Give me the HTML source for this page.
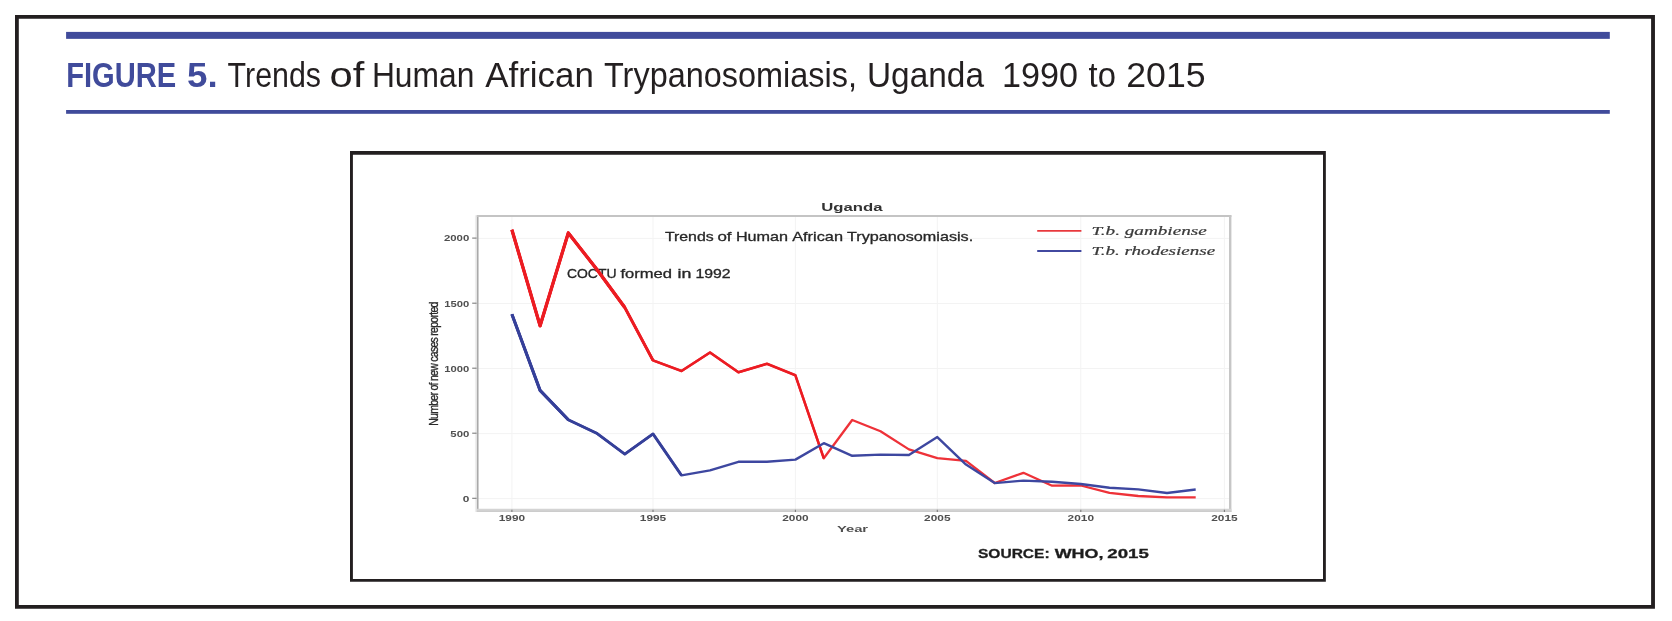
<!DOCTYPE html>
<html lang="en">
<head>
<meta charset="utf-8">
<title>FIGURE 5. Trends of Human African Trypanosomiasis, Uganda 1990 to 2015</title>
<style>
  html, body { margin: 0; padding: 0; background: #ffffff; }
  body { width: 1672px; height: 621px; overflow: hidden; position: relative; }
  svg { position: absolute; left: 0; top: 0; display: block; will-change: transform; }
  text { font-family: "Liberation Sans", Arial, sans-serif; }
  .serif { font-family: "Liberation Serif", "Times New Roman", serif; font-style: italic; }
</style>
</head>
<body>
<svg width="1672" height="621" viewBox="0 0 1672 621">
  <rect x="0" y="0" width="1672" height="621" fill="#ffffff"/>

  <!-- outer frame -->
  <path fill="#231f20" fill-rule="evenodd" d="M15 15H1654.95V608.8H15Z M18.8 18.65H1651.1V605.05H18.8Z"/>

  <!-- heading rules -->
  <rect x="66.1" y="31.9" width="1543.7" height="6.95" fill="#404b9b"/>
  <rect x="66.1" y="110" width="1543.7" height="3.8" fill="#404b9b"/>

  <!-- heading -->
  <text y="87.2" font-size="35" fill="#231f20"><tspan fill="#404b9b" font-weight="bold"><tspan x="66.2" textLength="110" lengthAdjust="spacingAndGlyphs">FIGURE</tspan> <tspan x="187.1" textLength="30.7" lengthAdjust="spacingAndGlyphs">5.</tspan></tspan> <tspan x="227.6" textLength="93.4" lengthAdjust="spacingAndGlyphs">Trends</tspan> <tspan x="329.5" textLength="34.8" lengthAdjust="spacingAndGlyphs">of</tspan> <tspan x="371.9" textLength="102.5" lengthAdjust="spacingAndGlyphs">Human</tspan> <tspan x="485.2" textLength="108.6" lengthAdjust="spacingAndGlyphs">African</tspan> <tspan x="604" textLength="253" lengthAdjust="spacingAndGlyphs">Trypanosomiasis,</tspan> <tspan x="867" textLength="117" lengthAdjust="spacingAndGlyphs">Uganda</tspan> <tspan x="1002.1" textLength="75.9" lengthAdjust="spacingAndGlyphs">1990</tspan> <tspan x="1088.6" textLength="27.3" lengthAdjust="spacingAndGlyphs">to</tspan> <tspan x="1126.3" textLength="79.3" lengthAdjust="spacingAndGlyphs">2015</tspan></text>

  <!-- inner figure box -->
  <path fill="#231f20" fill-rule="evenodd" d="M350 151H1325.85V581.8H350Z M352.9 154.8H1323V579H352.9Z"/>

  <!-- chart -->
  <defs><filter id="soft" x="-2%" y="-2%" width="104%" height="104%"><feGaussianBlur stdDeviation="0.55"/></filter></defs>
  <g id="chart" filter="url(#soft)">
    <!-- grid -->
    <g stroke="#f3f3f3" stroke-width="1" fill="none">
      <line x1="511.9" y1="216.4" x2="511.9" y2="510.4"/>
      <line x1="653.0" y1="216.4" x2="653.0" y2="510.4"/>
      <line x1="795.4" y1="216.4" x2="795.4" y2="510.4"/>
      <line x1="937.3" y1="216.4" x2="937.3" y2="510.4"/>
      <line x1="1080.8" y1="216.4" x2="1080.8" y2="510.4"/>
      <line x1="1224.4" y1="216.4" x2="1224.4" y2="510.4"/>
      <line x1="477.55" y1="498.6" x2="1229.8" y2="498.6"/>
      <line x1="477.55" y1="433.6" x2="1229.8" y2="433.6"/>
      <line x1="477.55" y1="368.5" x2="1229.8" y2="368.5"/>
      <line x1="477.55" y1="303.5" x2="1229.8" y2="303.5"/>
      <line x1="477.55" y1="238.4" x2="1229.8" y2="238.4"/>
    </g>
    <!-- plot frame -->
    <line x1="475.9" y1="215.2" x2="475.9" y2="512" stroke="#eeeeee" stroke-width="2"/>
    <line x1="477.7" y1="215.2" x2="477.7" y2="512" stroke="#a9a9a9" stroke-width="1.7"/>
    <line x1="476.8" y1="216.0" x2="1231.4" y2="216.0" stroke="#c4c4c4" stroke-width="1.8"/>
    <line x1="1230.2" y1="215.2" x2="1230.2" y2="512" stroke="#c6c6c6" stroke-width="2.4"/>
    <line x1="476.8" y1="510.4" x2="1231.4" y2="510.4" stroke="#d4d4d4" stroke-width="3.2"/>
    <line x1="476.8" y1="511.3" x2="1231.4" y2="511.3" stroke="#cacaca" stroke-width="0.9"/>
    <!-- tick marks -->
    <g stroke="#7c7c7c" stroke-width="1.1">
      <line x1="511.9" y1="509.8" x2="511.9" y2="512.0"/>
      <line x1="653.0" y1="509.8" x2="653.0" y2="512.0"/>
      <line x1="795.4" y1="509.8" x2="795.4" y2="512.0"/>
      <line x1="937.3" y1="509.8" x2="937.3" y2="512.0"/>
      <line x1="1080.8" y1="509.8" x2="1080.8" y2="512.0"/>
      <line x1="1224.4" y1="509.8" x2="1224.4" y2="512.0"/>
      <line x1="472.2" y1="498.3" x2="476.6" y2="498.3"/>
      <line x1="472.2" y1="433.2" x2="476.6" y2="433.2"/>
      <line x1="472.2" y1="368.2" x2="476.6" y2="368.2"/>
      <line x1="472.2" y1="303.2" x2="476.6" y2="303.2"/>
      <line x1="472.2" y1="238.1" x2="476.6" y2="238.1"/>
    </g>

    <!-- annotations (drawn beneath the series lines) -->
    <text y="240.9" font-size="12.4" fill="#262626" stroke="#262626" stroke-width="0.28"><tspan x="664.9" textLength="48.8" lengthAdjust="spacingAndGlyphs">Trends</tspan> <tspan x="717.4" textLength="14.1" lengthAdjust="spacingAndGlyphs">of</tspan> <tspan x="735.9" textLength="52.2" lengthAdjust="spacingAndGlyphs">Human</tspan> <tspan x="792.2" textLength="50.8" lengthAdjust="spacingAndGlyphs">African</tspan> <tspan x="847.0" textLength="126.2" lengthAdjust="spacingAndGlyphs">Trypanosomiasis.</tspan></text>
    <text y="277.6" font-size="13.2" fill="#262626" stroke="#262626" stroke-width="0.32"><tspan x="566.9" textLength="49.6" lengthAdjust="spacingAndGlyphs">COCTU</tspan> <tspan x="620.4" textLength="51.5" lengthAdjust="spacingAndGlyphs">formed</tspan> <tspan x="677.5" textLength="13.8" lengthAdjust="spacingAndGlyphs">in</tspan> <tspan x="695.4" textLength="35.2" lengthAdjust="spacingAndGlyphs">1992</tspan></text>

    <!-- series -->
    <g fill="none" stroke-linejoin="round" stroke-linecap="butt">
      <polyline stroke="#ee3038" stroke-width="2.3" points="511.9,229.8 540.1,325.8 568.3,232.9 596.6,269.1 624.8,307.5 653.0,360.4 681.5,371.0 710.0,352.5 738.4,372.3 766.9,363.8 795.4,375.3 823.8,458.3 852.2,420.0 880.5,431.3 908.9,449.4 937.3,458.1 966.0,460.9 994.7,483.0 1023.4,472.8 1052.1,485.7 1080.8,485.5 1109.5,492.9 1138.2,496.0 1167.0,497.4 1195.7,497.4"/>
      <polyline stroke="#ec1c24" stroke-width="2.55" points="511.9,229.8 540.1,325.8 568.3,232.9 596.6,269.1 624.8,307.5 653.0,360.4 681.5,371.0 710.0,352.5 738.4,372.3 766.9,363.8 795.4,375.3 823.8,458.3"/>
      <polyline stroke="#ec1c24" stroke-width="3.0" points="511.9,229.8 540.1,325.8 568.3,232.9 596.6,269.1 624.8,307.5 653.0,360.4"/>
      <polyline stroke="#ec1c24" stroke-width="3.3" points="511.9,229.8 540.1,325.8 568.3,232.9 596.6,269.1 624.8,307.5"/>
      <polyline stroke="#3e47a0" stroke-width="2.4" points="511.9,314.2 540.1,390.4 568.3,419.8 596.6,433.2 624.8,454.1 653.0,433.9 681.5,475.4 710.0,470.4 738.4,461.8 766.9,461.8 795.4,459.6 823.8,443.2 852.2,455.8 880.5,454.6 908.9,455.0 937.3,437.1 966.0,464.6 994.7,483.1 1023.4,480.6 1052.1,481.8 1080.8,484.0 1109.5,487.7 1138.2,489.4 1167.0,493.0 1195.7,489.5"/>
      <polyline stroke="#363f99" stroke-width="2.85" points="511.9,314.2 540.1,390.4 568.3,419.8 596.6,433.2 624.8,454.1 653.0,433.9 681.5,475.4"/>
      <polyline stroke="#363f99" stroke-width="3.1" points="511.9,314.2 540.1,390.4 568.3,419.8"/>
    </g>

    <!-- axis tick labels -->
    <g font-size="8.6" fill="#505050" font-weight="bold">
      <text x="511.9" y="521.2" text-anchor="middle" textLength="26.4" lengthAdjust="spacingAndGlyphs">1990</text>
      <text x="653.0" y="521.2" text-anchor="middle" textLength="26.4" lengthAdjust="spacingAndGlyphs">1995</text>
      <text x="795.4" y="521.2" text-anchor="middle" textLength="26.4" lengthAdjust="spacingAndGlyphs">2000</text>
      <text x="937.3" y="521.2" text-anchor="middle" textLength="26.4" lengthAdjust="spacingAndGlyphs">2005</text>
      <text x="1080.8" y="521.2" text-anchor="middle" textLength="26.4" lengthAdjust="spacingAndGlyphs">2010</text>
      <text x="1224.4" y="521.2" text-anchor="middle" textLength="26.4" lengthAdjust="spacingAndGlyphs">2015</text>
      <text x="469.3" y="501.6" text-anchor="end" textLength="6.6" lengthAdjust="spacingAndGlyphs">0</text>
      <text x="469.3" y="436.6" text-anchor="end" textLength="19" lengthAdjust="spacingAndGlyphs">500</text>
      <text x="469.3" y="371.5" text-anchor="end" textLength="25" lengthAdjust="spacingAndGlyphs">1000</text>
      <text x="469.3" y="306.5" text-anchor="end" textLength="25" lengthAdjust="spacingAndGlyphs">1500</text>
      <text x="469.3" y="241.4" text-anchor="end" textLength="25.4" lengthAdjust="spacingAndGlyphs">2000</text>
    </g>

    <!-- axis titles -->
    <text x="836.9" y="532.0" font-size="9.4" font-weight="bold" fill="#505050" textLength="31.2" lengthAdjust="spacingAndGlyphs">Year</text>
    <text transform="translate(437.6 425.8) rotate(-90) scale(0.78 1)" font-size="13.5" fill="#2a2a2a" stroke="#2a2a2a" stroke-width="0.35" textLength="159.2" lengthAdjust="spacing">Number of new cases reported</text>

    <!-- titles / annotations -->
    <text x="821.3" y="211.2" font-size="10.6" font-weight="bold" fill="#333333" textLength="61.3" lengthAdjust="spacingAndGlyphs">Uganda</text>

    <!-- legend -->
    <line x1="1037.2" y1="230.8" x2="1081.4" y2="230.8" stroke="#e8383e" stroke-width="1.8"/>
    <line x1="1037.2" y1="251" x2="1081.4" y2="251" stroke="#4248a0" stroke-width="1.8"/>
    <text class="serif" x="1091.5" y="234.9" font-size="12.3" fill="#3a3a3a" stroke="#3a3a3a" stroke-width="0.2" textLength="115.3" lengthAdjust="spacingAndGlyphs">T.b. gambiense</text>
    <text class="serif" x="1091.5" y="255.3" font-size="12.3" fill="#3a3a3a" stroke="#3a3a3a" stroke-width="0.2" textLength="123.7" lengthAdjust="spacingAndGlyphs">T.b. rhodesiense</text>

    <!-- source -->
    <text y="558.0" font-weight="bold" font-size="13.0" fill="#1e1e1e" stroke="#1e1e1e" stroke-width="0.3"><tspan x="978.0" textLength="71.6" lengthAdjust="spacingAndGlyphs">SOURCE:</tspan> <tspan x="1054.7" textLength="48.8" lengthAdjust="spacingAndGlyphs">WHO,</tspan> <tspan x="1107.3" textLength="41.5" lengthAdjust="spacingAndGlyphs">2015</tspan></text>
  </g>
</svg>
</body>
</html>
